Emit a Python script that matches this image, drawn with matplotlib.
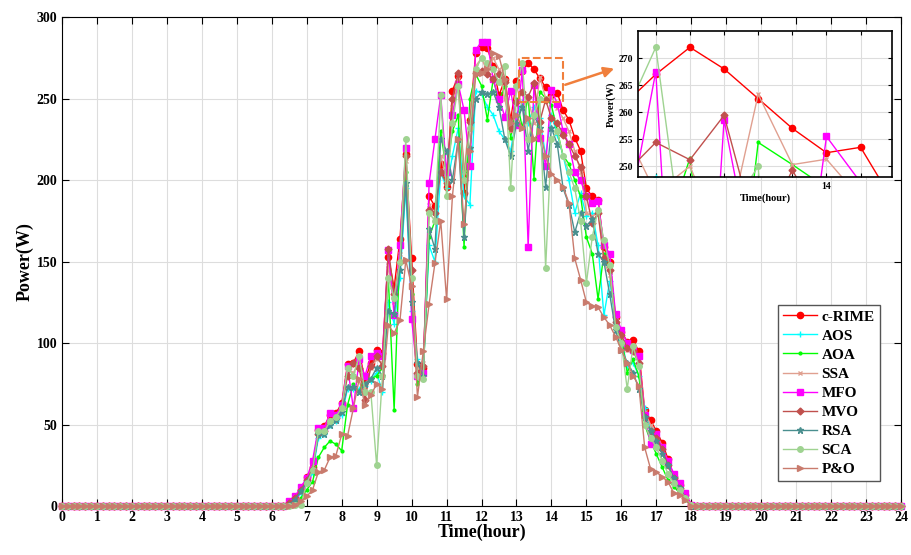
import numpy as np
import matplotlib.pyplot as plt

plt.rcParams['font.family'] = ['Liberation Serif', 'DejaVu Serif']
plt.rcParams['font.weight'] = 'bold'

# samples every 10 minutes, 0h..24h ; daylight part starts at 6.5h (index 39)
n_samples = 145
day_start = 39

methods = ['c-RIME', 'AOS', 'AOA', 'SSA', 'MFO', 'MVO', 'RSA', 'SCA', 'P&O']

# power values (W) from 6.5h to 18.0h, 10 min step
crime = [2, 5, 10, 18, 24, 47, 49, 56, 57, 63, 87, 88, 95, 77, 88, 96, 94, 153, 134, 164,
         216, 152, 87, 85, 190, 184, 210, 196, 255, 264, 192, 237, 278, 282, 281, 270, 252, 262, 237, 261,
         267, 272, 268, 262.5, 257, 252.5, 253.5, 243, 237, 226, 218, 195, 190, 188, 159, 150, 116, 107, 101, 102,
         95, 59, 53, 46, 39, 29, 18, 13, 7, 1]
aos = [1, 3, 8, 14, 20, 42, 44, 50, 52, 56, 72, 72, 72, 74, 77, 82, 70, 125, 112, 140,
       195, 120, 90, 82, 160, 150, 205, 195, 215, 232, 190, 185, 255, 253, 245, 240, 230, 225, 218, 240,
       248, 235, 245, 238, 215, 240, 228, 215, 200, 180, 192, 178, 180, 160, 117, 138, 112, 102, 86, 88,
       80, 60, 48, 44, 36, 27, 18, 12, 6, 0]
aoa = [0, 1, 5, 10, 15, 30, 36, 40, 38, 34, 62, 75, 70, 80, 78, 80, 85, 140, 59, 160,
       205, 130, 75, 82, 165, 175, 230, 205, 230, 240, 159, 250, 265, 258, 237, 262, 248, 258, 226, 250,
       232, 251.5, 201, 254.4, 250.3, 246, 230, 215, 210, 200, 190, 165, 155, 127, 155, 143, 115, 104, 82, 90,
       80, 50, 40, 32, 24, 16, 12, 8, 4, 0]
ssa = [2, 5, 11, 17, 25, 45, 47, 53, 55, 61, 84, 82, 88, 72, 85, 90, 88, 148, 125, 155,
       212, 140, 84, 88, 185, 178, 215, 200, 245, 262, 205, 240, 270, 275, 266, 275, 268, 250, 230, 258,
       245, 250, 235, 263.3, 250.3, 251.3, 244, 238, 230, 218, 205, 180, 178, 180, 150, 142, 114, 104, 96, 98,
       90, 58, 50, 44, 37, 27, 18, 12, 6, 1]
mfo = [3, 6, 12, 17, 28, 48, 48, 57, 56, 62, 86, 60, 90, 80, 92, 94, 92, 157, 117, 160,
       220, 115, 80, 82, 198, 225, 252, 205, 240, 259, 243, 209, 280, 285, 285, 262, 250, 239, 255, 234,
       267.5, 159, 258.6, 226, 209, 255.5, 247, 230, 222, 205, 200, 190, 186, 187, 160, 155, 118, 108, 100, 96,
       92, 56, 38, 44, 36, 28, 20, 14, 8, 1]
mvo = [2, 5, 10, 16, 23, 44, 46, 52, 54, 60, 80, 88, 85, 65, 86, 92, 86, 158, 130, 150,
       215, 145, 82, 86, 182, 180, 205, 198, 250, 266, 200, 236, 266, 267, 265, 262, 265, 260, 232, 248,
       254.4, 251.2, 259.4, 236, 249.3, 238, 235, 228, 222, 215, 208, 190, 174, 180, 152, 145, 113, 105, 97, 95,
       88, 55, 46, 42, 35, 25, 17, 11, 5, 0]
rsa = [1, 4, 9, 15, 22, 44, 44, 50, 53, 58, 73, 73, 70, 75, 78, 85, 80, 120, 118, 145,
       198, 125, 88, 80, 170, 158, 225, 218, 200, 225, 165, 220, 250, 254, 253, 254, 245, 225, 215, 235,
       245, 218, 240, 232, 196, 232, 222, 195, 185, 168, 180, 172, 176, 155, 150, 130, 108, 96, 88, 82,
       72, 55, 46, 40, 32, 25, 17, 11, 5, 0]
sca = [0, 0.5, 1, 14, 22, 46, 46, 52, 55, 60, 85, 80, 92, 70, 70, 25, 80, 140, 128, 150,
       225, 140, 80, 78, 180, 175, 252, 190, 235, 258, 200, 232, 268, 275, 272, 268, 260, 270, 195, 258,
       272, 225, 240, 250, 146, 225, 230, 215, 205, 195, 175, 137, 165, 182, 163, 148, 110, 100, 72, 98,
       86, 50, 42, 36, 28, 20, 14, 10, 5, 1]
po = [0, 1, 3, 6, 10, 21, 22, 30, 31, 44, 43, 60, 78, 62, 68, 75, 72, 111, 106, 114,
      151, 135, 67, 95, 124, 149, 175, 127, 190, 225, 173, 218, 265, 266, 268, 278, 276, 262, 235, 240,
      232, 238, 225, 230, 215, 204, 200, 196, 186, 152, 139, 125, 123, 122, 116, 111, 104, 96, 88, 80,
      74, 36, 23, 21, 18, 15, 8, 7, 4, 0]

series = [crime, aos, aoa, ssa, mfo, mvo, rsa, sca, po]
colors = ['#ff0000', '#00ffff', '#00ff00', '#e0a090', '#ff00ff', '#c0504d', '#4a8f8f', '#9fd391', '#c97b6d']
markers = ['o', '+', '.', 'x', 's', 'D', '*', 'o', '>']
msizes = [4.5, 4, 4, 3, 4, 3.5, 5, 4, 4.5]

hours = np.arange(n_samples) / 6.0


def full_day(vals):
    out = np.zeros(n_samples)
    out[day_start:day_start + len(vals)] = vals
    return out


fig = plt.figure(figsize=(9.12, 5.55), dpi=100)
ax = fig.add_axes([0.068, 0.088, 0.920, 0.881])

for name, vals, c, m, ms in zip(methods, series, colors, markers, msizes):
    ax.plot(hours, full_day(vals), color=c, marker=m, markersize=ms, linewidth=1.0,
            label=name, clip_on=False, zorder=3)

ax.set_xlim(0, 24)
ax.set_ylim(0, 300)
ax.set_xticks(range(0, 25))
ax.set_yticks(range(0, 301, 50))
ax.grid(True, color='#dddddd', linewidth=0.8)
ax.tick_params(direction='in', top=True, right=True, labelsize=10, length=5)
for lab in ax.get_xticklabels() + ax.get_yticklabels():
    lab.set_fontweight('bold')
ax.set_xlabel('Time(hour)', fontsize=13, fontweight='bold', labelpad=0)
ax.set_ylabel('Power(W)', fontsize=13, fontweight='bold', labelpad=2)

leg = ax.legend(loc='lower right', bbox_to_anchor=(0.984, 0.035), fontsize=11,
                frameon=True, fancybox=False, framealpha=1, edgecolor='#555555',
                handlelength=2.2, handletextpad=0.3, labelspacing=0.35, borderpad=0.35)
leg.set_zorder(5)
for txt in leg.get_texts():
    txt.set_fontweight('bold')

# zoom window
x0, x1, y0, y1 = 13.08, 14.32, 248, 275
ax.plot([x0, x1, x1, x0, x0], [y0, y0, y1, y1, y0], linestyle='--', color='#f07f3c',
        linewidth=1.5, zorder=4)
ax.annotate('', xy=(15.87, 269), xytext=(x1, 258),
            arrowprops=dict(arrowstyle='-|>', color='#f07f3c', linewidth=1.8,
                            mutation_scale=15))

axin = fig.add_axes([0.6996, 0.681, 0.2785, 0.263])
for name, vals, c, m, ms in zip(methods, series, colors, markers, msizes):
    axin.plot(hours, full_day(vals), color=c, marker=m, markersize=ms, linewidth=1.0)
axin.set_xlim(x0, x1)
axin.set_ylim(y0, y1)
xt = [13 + k / 6 for k in range(1, 8)]
axin.set_xticks(xt)
axin.set_xticklabels(['14' if abs(v - 14) < 1e-6 else '' for v in xt])
axin.set_yticks(range(250, 271, 5))
axin.grid(True, color='#dddddd', linewidth=0.8)
axin.tick_params(direction='in', top=True, right=True, labelsize=7, length=3)
for lab in axin.get_xticklabels() + axin.get_yticklabels():
    lab.set_fontweight('bold')
axin.set_xlabel('Time(hour)', fontsize=7.5, fontweight='bold', labelpad=2)
axin.set_ylabel('Power(W)', fontsize=7.5, fontweight='bold', labelpad=2)
for sp in axin.spines.values():
    sp.set_linewidth(1.2)

fig.savefig('out.png', dpi=100)
